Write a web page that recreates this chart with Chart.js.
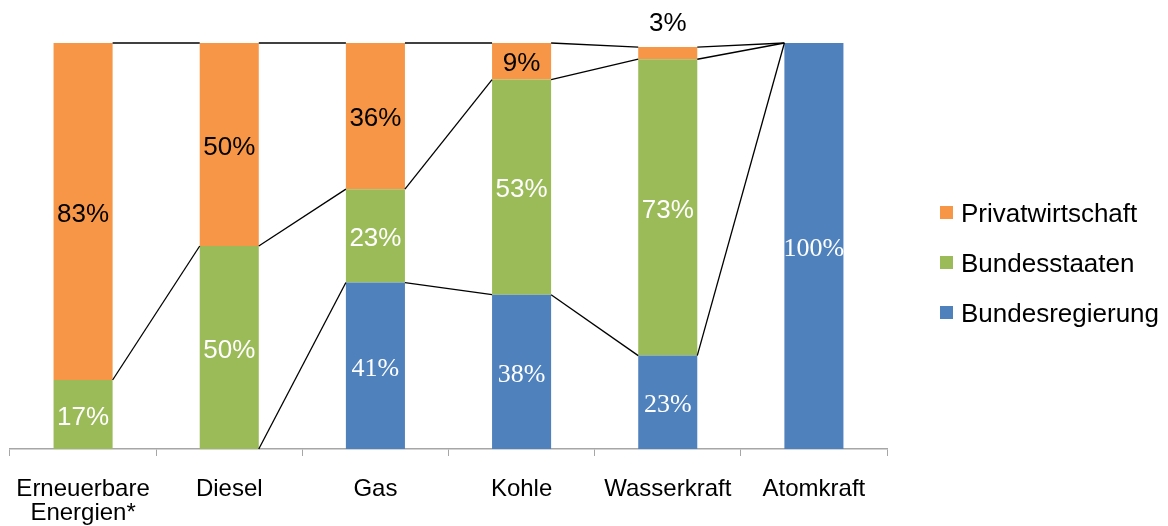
<!DOCTYPE html>
<html>
<head>
<meta charset="utf-8">
<script src="https://cdn.jsdelivr.net/npm/chart.js@4"></script>
<style>
  html, body { margin: 0; padding: 0; background: #fff; }
  #wrap { width: 1168px; height: 526px; }
</style>
</head>
<body>
<div id="wrap"><canvas id="shareChart"></canvas></div>
<script>
const categories = [["Erneuerbare", "Energien*"], "Diesel", "Gas", "Kohle", "Wasserkraft", "Atomkraft"];
const bundesregierung = [0, 0, 41, 38, 23, 100];
const bundesstaaten = [17, 50, 23, 53, 73, 0];
const privatwirtschaft = [83, 50, 36, 9, 3, 0];

const sansFont = "'Liberation Sans', Arial, sans-serif";
const serifFont = "'Liberation Serif', 'Times New Roman', serif";

// connecting lines between the tops of matching segments (Excel-style series lines)
const seriesLines = {
  id: "seriesLines",
  afterDatasetsDraw(chart) {
    const ctx = chart.ctx;
    const floor = chart.scales.y.getPixelForValue(0);
    ctx.save();
    ctx.strokeStyle = "#000";
    ctx.lineWidth = 1.3;
    chart.data.datasets.forEach((ds, d) => {
      const bars = chart.getDatasetMeta(d).data;
      for (let i = 0; i < bars.length - 1; i++) {
        const a = bars[i], b = bars[i + 1];
        // a line lying on the axis stays hidden behind it
        if (Math.abs(a.y - floor) < 0.5 && Math.abs(b.y - floor) < 0.5) continue;
        ctx.beginPath();
        ctx.moveTo(a.x + a.width / 2, a.y);
        ctx.lineTo(b.x - b.width / 2, b.y);
        ctx.stroke();
      }
    });
    ctx.restore();
  }
};

// percentage labels inside the segments
const segmentLabels = {
  id: "segmentLabels",
  afterDatasetsDraw(chart) {
    const ctx = chart.ctx;
    ctx.save();
    ctx.textAlign = "center";
    ctx.textBaseline = "middle";
    chart.data.datasets.forEach((ds, d) => {
      chart.getDatasetMeta(d).data.forEach((bar, i) => {
        const v = ds.data[i];
        if (!v) return;
        ctx.font = ds.labelFont;
        ctx.fillStyle = ds.labelColor;
        let y = (bar.y + bar.base) / 2 + 3;
        if (v < 5) {
          // too thin for text, put it above the bar
          ctx.fillStyle = "#000";
          y = bar.y - 23;
        }
        ctx.fillText(v + "%", bar.x, y);
      });
    });
    ctx.restore();
  }
};

// legend on the right, top series first
const sideLegend = {
  id: "sideLegend",
  afterDraw(chart) {
    const ctx = chart.ctx;
    const x = chart.chartArea.right + 53;
    const mid = chart.height / 2;
    const items = chart.data.datasets.slice().reverse();
    ctx.save();
    ctx.font = "26px " + sansFont;
    ctx.textBaseline = "middle";
    ctx.textAlign = "left";
    items.forEach((ds, k) => {
      const y = mid + (k - (items.length - 1) / 2) * 50;
      ctx.fillStyle = ds.backgroundColor;
      ctx.fillRect(x, y - 7, 13, 13);
      ctx.fillStyle = "#000";
      ctx.fillText(ds.label, x + 21, y + 2);
    });
    ctx.restore();
  }
};

new Chart(document.getElementById("shareChart"), {
  type: "bar",
  data: {
    labels: categories,
    datasets: [
      {
        label: "Bundesregierung",
        data: bundesregierung,
        backgroundColor: "#4F81BD",
        labelColor: "#fff",
        labelFont: "26px " + serifFont,
      },
      {
        label: "Bundesstaaten",
        data: bundesstaaten,
        backgroundColor: "#9BBB59",
        labelColor: "#fff",
        labelFont: "26px " + sansFont,
      },
      {
        label: "Privatwirtschaft",
        data: privatwirtschaft,
        backgroundColor: "#F79646",
        labelColor: "#000",
        labelFont: "26px " + sansFont,
      },
    ],
  },
  options: {
    responsive: true,
    maintainAspectRatio: false,
    animation: false,
    layout: { padding: { left: 10, top: 43, right: 281, bottom: 0 } },
    datasets: {
      bar: { barPercentage: 0.404, categoryPercentage: 1 },
    },
    scales: {
      x: {
        stacked: true,
        grid: { drawOnChartArea: false, drawTicks: true, tickLength: 7, color: "#A6A6A6", offset: true },
        border: { color: "#A6A6A6", width: 1.5 },
        ticks: {
          color: "#000",
          padding: 21,
          maxRotation: 0,
          font: { family: sansFont, size: 24, lineHeight: 1.0 },
        },
        afterFit(scale) {
          scale.height = 77;
          // labels fit inside their categories, no extra side room needed
          scale.paddingLeft = 0;
          scale.paddingRight = 0;
        },
      },
      y: {
        stacked: true,
        display: false,
        min: 0,
        max: 100,
      },
    },
    plugins: {
      tooltip: { enabled: false },
      legend: { display: false },
    },
  },
  plugins: [seriesLines, segmentLabels, sideLegend],
});
</script>
</body>
</html>
